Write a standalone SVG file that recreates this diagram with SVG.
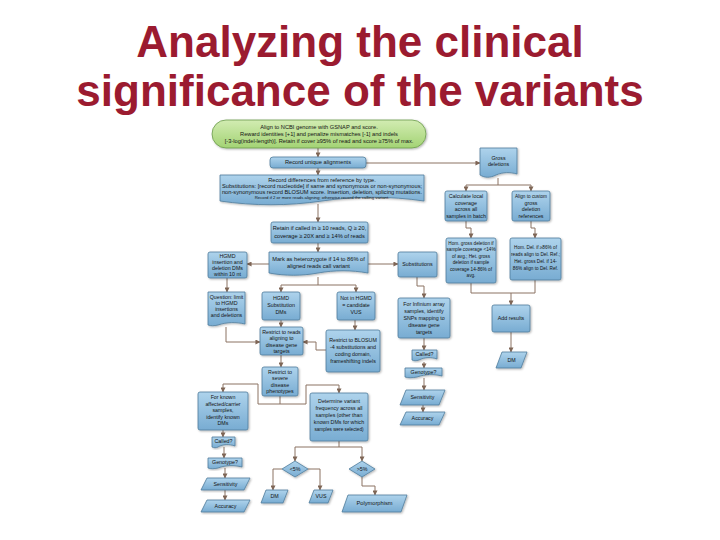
<svg xmlns="http://www.w3.org/2000/svg" width="720" height="540" viewBox="0 0 720 540">
<defs>
<linearGradient id="blue" x1="0" y1="0" x2="0" y2="1"><stop offset="0" stop-color="#aed3ec"/><stop offset="1" stop-color="#78acd2"/></linearGradient>
<linearGradient id="green" x1="0" y1="0" x2="0" y2="1"><stop offset="0" stop-color="#d2ecb2"/><stop offset="1" stop-color="#a3d374"/></linearGradient>
<filter id="sh" x="-10%" y="-10%" width="130%" height="130%"><feDropShadow dx="1" dy="1" stdDeviation="0.8" flood-color="#000" flood-opacity="0.3"/></filter>
<marker id="ar" viewBox="0 0 6 6" refX="5.5" refY="3" markerWidth="5" markerHeight="5" orient="auto" markerUnits="userSpaceOnUse"><path d="M0,0 L6,3 L0,6 Z" fill="#7f6656"/></marker>
</defs>
<style>
.title{font-family:"Liberation Sans",Arial,sans-serif;font-weight:bold;font-size:44px;fill:#9b1b30;text-anchor:middle}
.b{fill:url(#blue);stroke:#4f7c9c;stroke-width:0.8;filter:url(#sh)}
.g{fill:url(#green);stroke:#6b9a4d;stroke-width:0.8;filter:url(#sh)}
.t{font-family:"Liberation Sans",Arial,sans-serif;font-size:5.3px;fill:#141414;text-anchor:middle;dominant-baseline:middle}
.w{font-size:5.7px}
.s{font-size:4.3px}
.n{font-size:4.7px}
.c{fill:none;stroke:#8b7262;stroke-width:1}
.a{marker-end:url(#ar)}
</style>
<rect width="720" height="540" fill="#fff"/>
<text class="title" x="360" y="57">Analyzing the clinical</text>
<text class="title" x="360" y="106">significance of the variants</text>

<g id="connectors">
<path class="c a" d="M318,148 V157"/>
<path class="c a" d="M318,168 V175"/>
<path class="c a" d="M318,204 V222"/>
<path class="c a" d="M318,243 V252"/>
<path class="c a" d="M366,163 H480"/>
<path class="c" d="M498,178 V185 M466,185 H531"/>
<path class="c a" d="M466,185 V191"/>
<path class="c a" d="M531,185 V191"/>
<path class="c a" d="M466,221 V228 H471 V238"/>
<path class="c a" d="M531,221 V228 H535 V238"/>
<path class="c" d="M471,283 V293 M535,280 V293 M471,293 H535"/>
<path class="c a" d="M511,293 V305"/>
<path class="c a" d="M511,332 V352"/>
<path class="c a" d="M269,264 H247"/>
<path class="c a" d="M368,264 H398"/>
<path class="c a" d="M227,278 V292"/>
<path class="c" d="M318,277 V285 M281,285 H356"/>
<path class="c a" d="M281,285 V292"/>
<path class="c a" d="M356,285 V292"/>
<path class="c a" d="M355,320 V330"/>
<path class="c a" d="M281,320 V327"/>
<path class="c a" d="M226,327 V342 H260"/>
<path class="c a" d="M326,350 H316 V342 H303"/>
<path class="c a" d="M281,355 V367"/>
<path class="c" d="M280,396 V404 H258 V384 H223"/>
<path class="c a" d="M223,384 V392"/>
<path class="c" d="M280,404 H306 V385 H339"/>
<path class="c a" d="M339,385 V393"/>
<path class="c a" d="M223,430 V437"/>
<path class="c a" d="M224,447 V458"/>
<path class="c a" d="M225,468 V478"/>
<path class="c a" d="M225,490 V500"/>
<path class="c" d="M339,441 V447 M295,447 H362"/>
<path class="c a" d="M295,447 V461"/>
<path class="c a" d="M362,447 V461"/>
<path class="c a" d="M282,469 H273 V490"/>
<path class="c a" d="M308,469 H320 V490"/>
<path class="c a" d="M362,477 V486 H375 V495"/>
<path class="c a" d="M417,277 V286 H424 V298"/>
<path class="c a" d="M424,338 V350"/>
<path class="c a" d="M424,362 V368"/>
<path class="c a" d="M424,378 V390"/>
<path class="c a" d="M423,405 V412"/>
</g>

<g id="n-align">
<rect class="g" x="212" y="120" width="214" height="28" rx="14"/>
<text class="t w" x="319" y="127">Align to NCBI genome with GSNAP and score.</text>
<text class="t w" x="319" y="134">Reward identities [+1] and penalize mismatches [-1] and indels</text>
<text class="t w" x="319" y="141">[-3-log(indel-length)]. Retain if cover ≥95% of read and score ≥75% of max.</text>
</g>
<g id="n-unique">
<rect class="b" x="270" y="157" width="96" height="11" rx="3"/>
<text class="t w" x="318" y="162.7">Record unique alignments</text>
</g>
<g id="n-record">
<path class="b" d="M220,175 H424 V201 C390,196 356,196 322,201 C288,206 254,206 220,201 Z"/>
<text class="t w" x="322" y="180.5">Record differences from reference by type.</text>
<text class="t w" x="322" y="186.5">Substitutions: [record nucleotide] if same and synonymous or non-synonymous;</text>
<text class="t w" x="322" y="192.5">non-synonymous record BLOSUM score. Insertion, deletion, splicing mutations.</text>
<text class="t s" x="322" y="198">Record if 2 or more reads aligning; otherwise record the calling variant.</text>
</g>
<g id="n-retain">
<rect class="b" x="271" y="222" width="97" height="21" rx="2"/>
<text class="t w" x="319.5" y="228.5">Retain if called in ≥ 10 reads, Q ≥ 20,</text>
<text class="t w" x="319.5" y="236">coverage ≥ 20X and ≥ 14% of reads</text>
</g>
<g id="n-mark">
<path class="b" d="M269,252 H368 V273 C351,270 335,270 318,273 C302,276 285,276 269,273 Z"/>
<text class="t w" x="318.5" y="259">Mark as heterozygote if 14 to 86% of</text>
<text class="t w" x="318.5" y="266">aligned reads call variant</text>
</g>
<g id="n-hgmd-indel">
<rect class="b" x="208" y="252" width="39" height="26" rx="2"/>
<text class="t" x="227.5" y="256.5">HGMD</text>
<text class="t" x="227.5" y="262.5">insertion and</text>
<text class="t" x="227.5" y="268.5">deletion DMs</text>
<text class="t" x="227.5" y="274.5">within 10 nt</text>
</g>
<g id="n-question">
<path class="b" d="M208,292 H245 V324 C236,322 227,322 218,325 C214,326 211,326 208,325 Z"/>
<text class="t" x="226.5" y="298">Question: limit</text>
<text class="t" x="226.5" y="304">to HGMD</text>
<text class="t" x="226.5" y="310">insertions</text>
<text class="t" x="226.5" y="316">and deletions</text>
</g>
<g id="n-hgmd-sub">
<rect class="b" x="262" y="292" width="38" height="28" rx="2"/>
<text class="t" x="281" y="299">HGMD</text>
<text class="t" x="281" y="306">Substitution</text>
<text class="t" x="281" y="313">DMs</text>
</g>
<g id="n-notin">
<rect class="b" x="337" y="292" width="38" height="28" rx="2"/>
<text class="t" x="356" y="299">Not in HGMD</text>
<text class="t" x="356" y="306">= candidate</text>
<text class="t" x="356" y="313">VUS</text>
</g>
<g id="n-restrict-reads">
<rect class="b" x="260" y="327" width="43" height="28" rx="2"/>
<text class="t" x="281.5" y="332.5">Restrict to reads</text>
<text class="t" x="281.5" y="339">aligning to</text>
<text class="t" x="281.5" y="345.5">disease gene</text>
<text class="t" x="281.5" y="352">targets</text>
</g>
<g id="n-blosum">
<rect class="b" x="326" y="330" width="54" height="42" rx="2"/>
<text class="t" x="353" y="341">Restrict to BLOSUM</text>
<text class="t" x="353" y="348">-4 substitutions and</text>
<text class="t" x="353" y="355">coding domain,</text>
<text class="t" x="353" y="362">frameshifting indels</text>
</g>
<g id="n-severe">
<rect class="b" x="262" y="367" width="36" height="29" rx="2"/>
<text class="t" x="280" y="372.5">Restrict to</text>
<text class="t" x="280" y="379">severe</text>
<text class="t" x="280" y="385.5">disease</text>
<text class="t" x="280" y="392">phenotypes</text>
</g>
<g id="n-known">
<rect class="b" x="198" y="392" width="50" height="38" rx="2"/>
<text class="t" x="223" y="398">For known</text>
<text class="t" x="223" y="404.5">affected/carrier</text>
<text class="t" x="223" y="411">samples,</text>
<text class="t" x="223" y="417.5">identify known</text>
<text class="t" x="223" y="424">DMs</text>
</g>
<g id="n-determine">
<rect class="b" x="310" y="393" width="58" height="48" rx="2"/>
<text class="t" x="339" y="402">Determine variant</text>
<text class="t" x="339" y="409">frequency across all</text>
<text class="t" x="339" y="416">samples (other than</text>
<text class="t" x="339" y="423">known DMs for which</text>
<text class="t n" x="339" y="430">samples were selected)</text>
</g>
<g id="n-called1">
<path class="b" d="M212,437 H235 V446 C229,444 223,444 218,447 C216,448 214,448 212,447 Z"/>
<text class="t" x="223.5" y="441.5">Called?</text>
</g>
<g id="n-geno1">
<path class="b" d="M208,458 H242 V467 C234,465 226,465 218,468 C214,469 211,469 208,468 Z"/>
<text class="t" x="225" y="462.5">Genotype?</text>
</g>
<g id="n-sens1">
<polygon class="b" points="207,478 250,478 244,490 201,490"/>
<text class="t" x="225.5" y="484.2">Sensitivity</text>
</g>
<g id="n-acc1">
<polygon class="b" points="207,500 250,500 244,512 201,512"/>
<text class="t" x="225.5" y="506.2">Accuracy</text>
</g>
<g id="n-lt5">
<polygon class="b" points="295,461 308,469 295,477 282,469"/>
<text class="t" x="295" y="469.2">&lt;5%</text>
</g>
<g id="n-gt5">
<polygon class="b" points="362,461 375,469 362,477 349,469"/>
<text class="t" x="362" y="469.2">&gt;5%</text>
</g>
<g id="n-dm1">
<polygon class="b" points="266,490 288,490 283,503 261,503"/>
<text class="t" x="274.5" y="496.7">DM</text>
</g>
<g id="n-vus">
<polygon class="b" points="314,490 333,490 328,503 309,503"/>
<text class="t" x="321" y="496.7">VUS</text>
</g>
<g id="n-poly">
<polygon class="b" points="348,495 407,495 401,512 342,512"/>
<text class="t w" x="374.5" y="503.7">Polymorphism</text>
</g>
<g id="n-gross">
<path class="b" d="M480,148 H517 V174 C510,172 503,172 496,175 C490,178 485,178 480,175 Z"/>
<text class="t" x="498.5" y="158.5">Gross</text>
<text class="t" x="498.5" y="165">deletions</text>
</g>
<g id="n-calc">
<rect class="b" x="445" y="191" width="42" height="30" rx="2"/>
<text class="t" x="466" y="197">Calculate local</text>
<text class="t" x="466" y="203.5">coverage</text>
<text class="t" x="466" y="210">across all</text>
<text class="t" x="466" y="216.5">samples in batch</text>
</g>
<g id="n-custom">
<rect class="b" x="512" y="191" width="38" height="30" rx="2"/>
<text class="t n" x="531" y="197">Align to custom</text>
<text class="t" x="531" y="203.5">gross</text>
<text class="t" x="531" y="210">deletion</text>
<text class="t" x="531" y="216.5">references</text>
</g>
<g id="n-homgross">
<rect class="b" x="446" y="238" width="50" height="45" rx="2"/>
<text class="t n" x="471" y="243.5">Hom. gross deletion if</text>
<text class="t n" x="471" y="250">sample coverage &lt;14%</text>
<text class="t n" x="471" y="256.5">of avg.; Het. gross</text>
<text class="t n" x="471" y="263">deletion if sample</text>
<text class="t n" x="471" y="269.5">coverage 14-86% of</text>
<text class="t n" x="471" y="276">avg.</text>
</g>
<g id="n-homdel">
<rect class="b" x="510" y="238" width="51" height="42" rx="2"/>
<text class="t n" x="535.5" y="248">Hom. Del. if ≥86% of</text>
<text class="t n" x="535.5" y="255">reads align to Del. Ref.;</text>
<text class="t n" x="535.5" y="262">Het. gross Del. if 14-</text>
<text class="t n" x="535.5" y="269">86% align to Del. Ref.</text>
</g>
<g id="n-add">
<rect class="b" x="492" y="305" width="38" height="27" rx="2"/>
<text class="t" x="511" y="318.7">Add results</text>
</g>
<g id="n-dm2">
<polygon class="b" points="502,352 527,352 521,368 496,368"/>
<text class="t" x="511.5" y="360.2">DM</text>
</g>
<g id="n-subs">
<rect class="b" x="398" y="252" width="39" height="25" rx="2"/>
<text class="t" x="417.5" y="264.7">Substitutions</text>
</g>
<g id="n-infinium">
<rect class="b" x="398" y="298" width="52" height="40" rx="2"/>
<text class="t" x="424" y="304.5">For Infinium array</text>
<text class="t" x="424" y="311.5">samples, identify</text>
<text class="t" x="424" y="318.5">SNPs mapping to</text>
<text class="t" x="424" y="325.5">disease gene</text>
<text class="t" x="424" y="332.5">targets</text>
</g>
<g id="n-called2">
<path class="b" d="M412,350 H437 V359 C431,357 425,357 419,360 C416,361 414,361 412,360 Z"/>
<text class="t" x="424.5" y="354.5">Called?</text>
</g>
<g id="n-geno2">
<path class="b" d="M405,368 H442 V376 C434,374 426,374 417,377 C412,378 408,378 405,377 Z"/>
<text class="t" x="423.5" y="372.5">Genotype?</text>
</g>
<g id="n-sens2">
<polygon class="b" points="406,390 445,390 439,405 400,405"/>
<text class="t" x="422.5" y="397.7">Sensitivity</text>
</g>
<g id="n-acc2">
<polygon class="b" points="406,412 445,412 439,425 400,425"/>
<text class="t" x="422.5" y="418.7">Accuracy</text>
</g>
</svg>
